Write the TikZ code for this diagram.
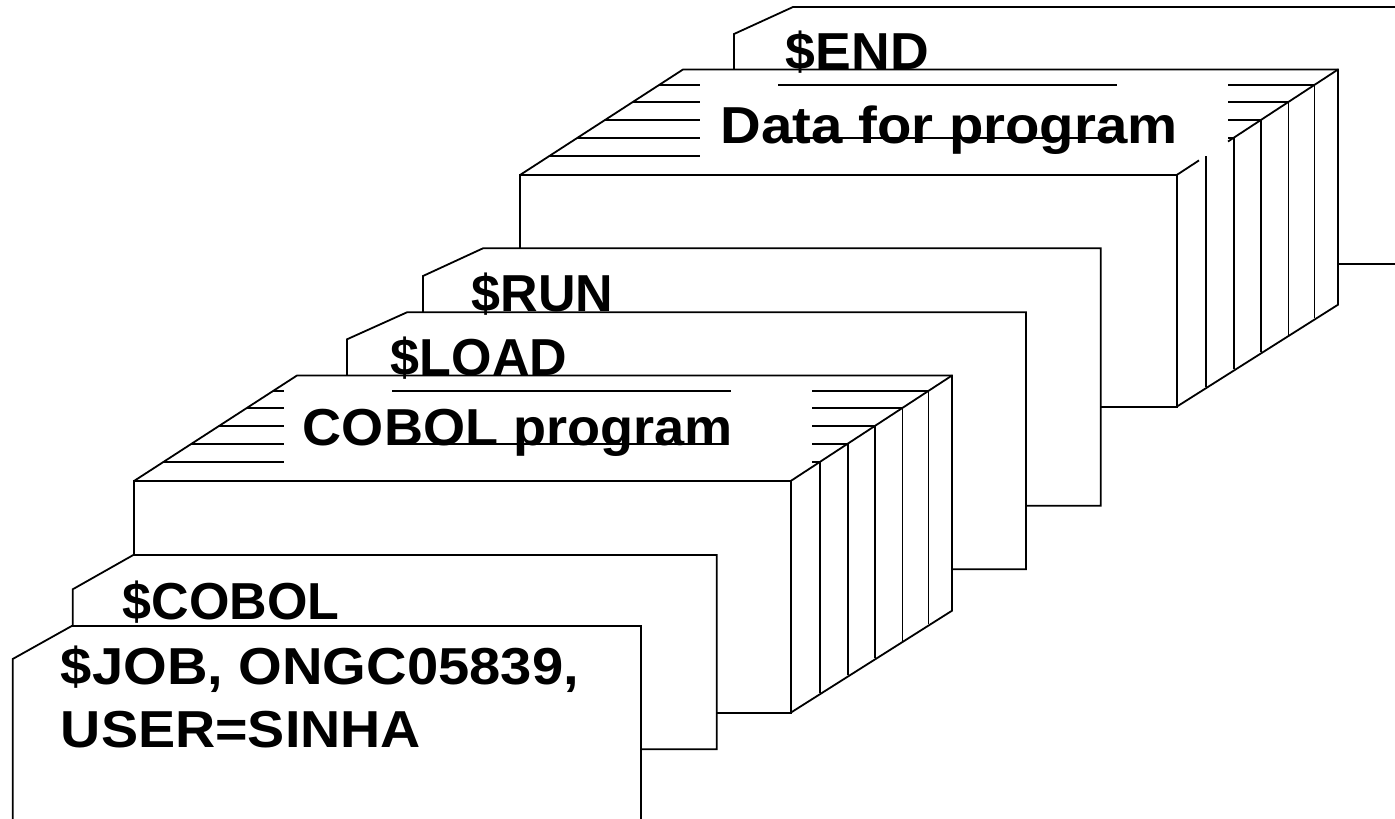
\documentclass[tikz,border=0pt]{standalone}
\usepackage{fontspec}
\setmainfont{Liberation Sans}
\newcommand\drawdeck[5]{%
\begin{scope}[shift={(#1,#2)}]
  \fill[white] (0,0) -- (163,-105.5) -- (818,-105.5) -- (818,129.7) -- (656.7,231.7) -- (0,231.7) -- cycle;
  \draw (0,0) rectangle (656.7,231.7);
  \draw (0,0) -- (163,-105.5) -- (818,-105.5) -- (818,129.7) -- (656.7,231.7);
  \draw #5;
  \foreach \r/\t/\b in {686/-18.8/212, 714/-36.8/194, 741.3/-55/177.2, 768.5/-73/159.7, 794.5/-90/143} {
    \draw (\r,\t) -- (\r,\b);
    \draw ({-1.545*(\t)},\t) -- (#3,\t);
    \ifdim\r pt>#4pt \draw (#4,\t) -- (\r,\t); \fi
  }
  \draw (258,-90) -- (597,-90);
  \draw (262,-36.8) -- (592,-36.8);
\end{scope}}
\begin{document}
\begin{tikzpicture}[x=1pt,y=-1pt, line width=1.8pt,
  card/.style={draw=black, fill=white},
  lbl/.style={anchor=base west, inner sep=0pt, font=\fontsize{52}{60}\selectfont\bfseries}]
\useasboundingbox (0,0) rectangle (1395,819);
\clip (0,0) rectangle (1395,819);
\fill[white] (0,0) rectangle (1395,819);
% $END card
\draw[card] (734,34) -- (793,7) -- (1410,7) -- (1410,264) -- (734,264) -- cycle;
% data deck
\drawdeck{520}{175}{180}{708}{(656.7,0) -- (679,-14.6) (708,-33.5) -- (818,-105.5)}
% $RUN card
\draw[card] (423,276) -- (483,248.3) -- (1100.7,248.3) -- (1100.7,505.7) -- (423,505.7) -- cycle;
% $LOAD card
\draw[card] (347,339.3) -- (407,312.3) -- (1026,312.3) -- (1026,569.3) -- (347,569.3) -- cycle;
% COBOL program deck
\drawdeck{134}{481}{150}{678}{(656.7,0) -- (818,-105.5)}
% $COBOL card
\draw[card] (72.7,589.3) -- (133.3,555) -- (716.7,555) -- (716.7,749.3) -- (72.7,749.3) -- cycle;
% $JOB card
\draw[card] (12.7,659) -- (71.7,626) -- (641,626) -- (641,830) -- (12.7,830) -- cycle;
% texts
\node[lbl] (tEnd) at (785,69) {\scalebox{1.03}[1]{\$END}};
\node[lbl] (tData) at (720,143) {\scalebox{1.083}[1]{Data for program}};
\node[lbl] (tRun) at (471,311) {\$RUN};
\node[lbl] (tLoad) at (390,375) {\$LOAD};
\node[lbl] (tCobolProg) at (302,445) {\scalebox{1.04}[1]{COBOL program}};
\node[lbl] (tCobol) at (122,619) {\$COBOL};
\node[lbl] (tJob1) at (60,684) {\scalebox{1.08}[1]{\$JOB, ONGC05839,}};
\node[lbl] (tJob2) at (60,747) {\scalebox{1.07}[1]{USER=SINHA}};
\end{tikzpicture}
\end{document}
